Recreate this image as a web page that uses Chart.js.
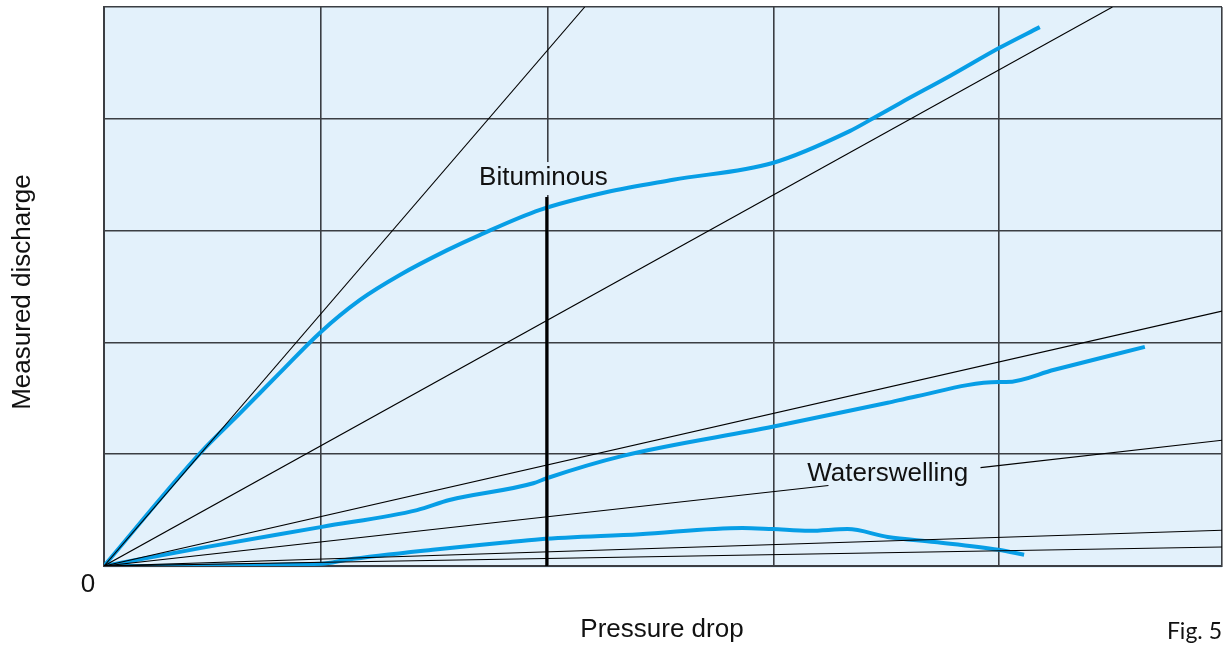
<!DOCTYPE html>
<html>
<head>
<meta charset="utf-8">
<script src="https://cdn.jsdelivr.net/npm/chart.js@4.4.1/dist/chart.umd.min.js"></script>
<style>
  html, body { margin: 0; padding: 0; background: #ffffff; }
  #wrap { width: 1223px; height: 652px; }
</style>
</head>
<body>
<div id="wrap"><canvas id="chart"></canvas></div>
<script>
// axis ticks (only used for grid lines)
const ticksX = [0, 19.4, 39.7, 59.9, 80, 100];
const ticksY = [0, 20, 40, 60, 80, 100];

// blue measured curves
const bitumX = [0, 8.6, 12.2, 15.7, 19.3, 22.9, 26.5, 30.7, 33.6, 39.0, 45.0, 50.9, 59.8, 66.7, 68.8, 71.2, 75.7, 80.1, 83.7];
const bitumY = [0, 20.2, 27.4, 34.5, 41.7, 47.6, 52.1, 56.5, 59.2, 63.7, 66.9, 69.1, 72.1, 77.8, 80.1, 82.8, 87.7, 92.7, 96.4];

const midX = [0, 8.6, 19.5, 28.0, 30.9, 38.4, 39.6, 46.4, 59.8, 70.1, 72.3, 80.0, 80.7, 85.0, 93.1];
const midY = [0, 3.2, 7.0, 10.0, 11.8, 14.8, 15.7, 19.7, 24.9, 29.2, 30.2, 32.9, 32.9, 35.1, 39.2];

const lowX = [0, 19.5, 21.7, 29.4, 35.4, 39.0, 47.9, 57.1, 59.8, 63.1, 66.5, 70.1, 74.3, 80.0, 82.3];
const lowY = [0, 0.4, 1.1, 2.9, 4.1, 4.8, 5.7, 6.8, 6.6, 6.3, 6.6, 5.2, 4.3, 2.9, 2.0];

// thin reference lines from the origin (end points)
const rayEndX = [43.0, 90.2, 100, 100, 100];
const rayEndY = [100, 100, 45.6, 6.4, 3.4];

// waterswelling ray, broken round its label
const waterX = [0, 64.8, 70, 78.4, 100];
const waterY = [0, 14.4, null, 17.6, 22.5];

// bituminous marker
const markX = [39.6, 39.6];
const markY = [0, 66.0];

const labels = [
  { text: 'Bituminous', x: 39.3, y: 69.4 },
  { text: 'Waterswelling', x: 70.1, y: 16.5 }
];

const BLUE = '#079ee6';
const GRID = '#3b3e43';
const BG = '#e3f1fb';

function pts(xs, ys) {
  return xs.map((x, i) => ({ x: x, y: ys[i] }));
}

const datasets = [];
rayEndX.forEach((ex, i) => {
  datasets.push({ data: [{ x: 0, y: 0 }, { x: ex, y: rayEndY[i] }], borderColor: '#000', borderWidth: 1.1, tension: 0 });
});
datasets.push({ data: pts(waterX, waterY), borderColor: '#000', borderWidth: 1.1, tension: 0, spanGaps: false });
datasets.push({ data: pts(markX, markY), borderColor: '#000', borderWidth: 3, tension: 0 });
[[bitumX, bitumY], [midX, midY], [lowX, lowY]].forEach(([xs, ys]) => {
  datasets.push({ data: pts(xs, ys), borderColor: BLUE, borderWidth: 4, cubicInterpolationMode: 'monotone', borderCapStyle: 'butt' });
});

const decor = {
  id: 'decor',
  beforeDraw(chart) {
    const { ctx, chartArea: a } = chart;
    ctx.save();
    ctx.fillStyle = BG;
    ctx.fillRect(a.left, a.top, a.right - a.left, a.bottom - a.top + 2);
    ctx.restore();
  },
  beforeDatasetsDraw(chart) {
    // gap in the grid line behind the Bituminous label
    const { ctx, scales } = chart;
    const px = scales.x.getPixelForValue(39.7);
    const py = scales.y.getPixelForValue(69.4);
    ctx.save();
    ctx.fillStyle = BG;
    ctx.fillRect(px - 3, py - 16, 6, 33);
    ctx.restore();
  },
  afterDraw(chart) {
    const { ctx, scales, chartArea: a } = chart;
    ctx.save();
    ctx.fillStyle = '#111';
    ctx.textAlign = 'center';
    ctx.textBaseline = 'middle';
    ctx.font = '26px "Liberation Sans", Arial, sans-serif';
    labels.forEach(l => {
      ctx.fillText(l.text, scales.x.getPixelForValue(l.x), scales.y.getPixelForValue(l.y));
    });
    ctx.fillText('0', a.left - 16, a.bottom + 19);
    ctx.fillText('Pressure drop', 662, 630);
    ctx.save();
    ctx.translate(23, 292);
    ctx.rotate(-Math.PI / 2);
    ctx.fillText('Measured discharge', 0, 0);
    ctx.restore();
    ctx.font = '23px Lato, "DejaVu Sans", sans-serif';
    ctx.textAlign = 'right';
    ctx.fillText('Fig. 5', 1222, 632);
    ctx.restore();
  }
};

new Chart(document.getElementById('chart'), {
  type: 'line',
  data: { datasets: datasets },
  options: {
    responsive: true,
    maintainAspectRatio: false,
    animation: false,
    layout: { padding: { left: 104, top: 7, right: 1, bottom: 86 } },
    elements: { point: { radius: 0 } },
    plugins: { legend: { display: false }, tooltip: { enabled: false } },
    scales: {
      x: {
        type: 'linear', min: 0, max: 100,
        afterBuildTicks: s => { s.ticks = ticksX.map(v => ({ value: v })); },
        ticks: { display: false },
        grid: { color: GRID, lineWidth: 1.6, drawTicks: false },
        border: { color: GRID, width: 2 }
      },
      y: {
        type: 'linear', min: 0, max: 100,
        afterBuildTicks: s => { s.ticks = ticksY.map(v => ({ value: v })); },
        ticks: { display: false },
        grid: { color: GRID, lineWidth: 1.6, drawTicks: false },
        border: { color: GRID, width: 2 }
      }
    }
  },
  plugins: [decor]
});
</script>
</body>
</html>
